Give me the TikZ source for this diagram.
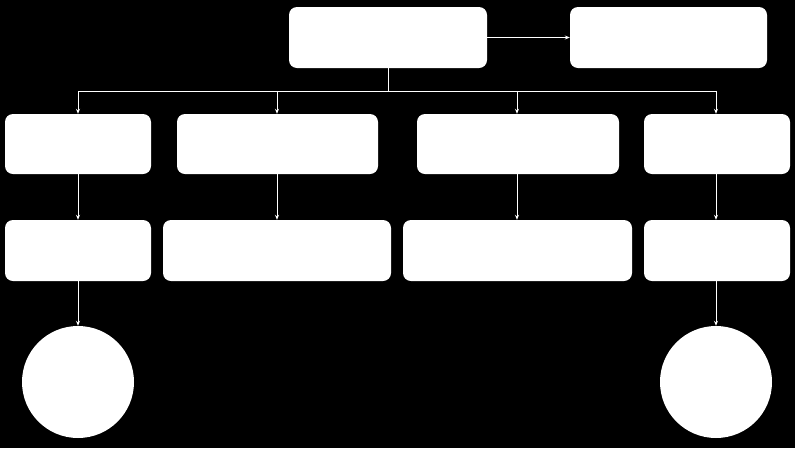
\documentclass[tikz,border=0pt]{standalone}
\usetikzlibrary{arrows.meta}
\begin{document}
\begin{tikzpicture}[x=1pt,y=-1pt,
  box/.style={rectangle,rounded corners=8pt,fill=white,draw=none,inner sep=0pt},
  disc/.style={circle,fill=white,draw=none,inner sep=0pt,minimum size=112pt},
  conn/.style={draw=white,line width=0.8pt},
  arr/.style={conn,-{Stealth[length=5pt,width=4pt]}}]
\fill[black] (0,0) rectangle (795,448);
\useasboundingbox (0,0) rectangle (795,448);
% top row
\node[box,minimum width=198pt,minimum height=61pt] (A) at (388,37.5) {};
\node[box,minimum width=197pt,minimum height=61pt] (B) at (668.5,37.5) {};
% second row
\node[box,minimum width=146pt,minimum height=60pt] (C1) at (78,144) {};
\node[box,minimum width=201pt,minimum height=60pt] (C2) at (277.5,144) {};
\node[box,minimum width=202pt,minimum height=60pt] (C3) at (518,144) {};
\node[box,minimum width=146pt,minimum height=60pt] (C4) at (717,144) {};
% third row
\node[box,minimum width=146pt,minimum height=61pt] (D1) at (78,250.5) {};
\node[box,minimum width=228pt,minimum height=61pt] (D2) at (277,250.5) {};
\node[box,minimum width=229pt,minimum height=61pt] (D3) at (517.5,250.5) {};
\node[box,minimum width=146pt,minimum height=61pt] (D4) at (717,250.5) {};
% circles
\node[disc] (E1) at (78,382) {};
\node[disc] (E2) at (716,382) {};
% bus coordinates
\coordinate (bus0) at (388,91);
\coordinate (b1) at (78,91);
\coordinate (b2) at (277,91);
\coordinate (b3) at (517,91);
\coordinate (b4) at (716,91);
% connectors
\draw[arr] (A.east) -- (B.west);
\draw[conn] (A.south) -- (bus0);
\draw[conn] (b1) -- (b4);
\draw[arr] (b1) -- (b1 |- C1.north);
\draw[arr] (b2) -- (b2 |- C2.north);
\draw[arr] (b3) -- (b3 |- C3.north);
\draw[arr] (b4) -- (b4 |- C4.north);
\draw[arr] (C1.south -| b1) -- (b1 |- D1.north);
\draw[arr] (C2.south -| b2) -- (b2 |- D2.north);
\draw[arr] (C3.south -| b3) -- (b3 |- D3.north);
\draw[arr] (C4.south -| b4) -- (b4 |- D4.north);
\draw[arr] (D1.south -| b1) -- (E1.north);
\draw[arr] (D4.south -| b4) -- (E2.north);
\end{tikzpicture}
\end{document}
